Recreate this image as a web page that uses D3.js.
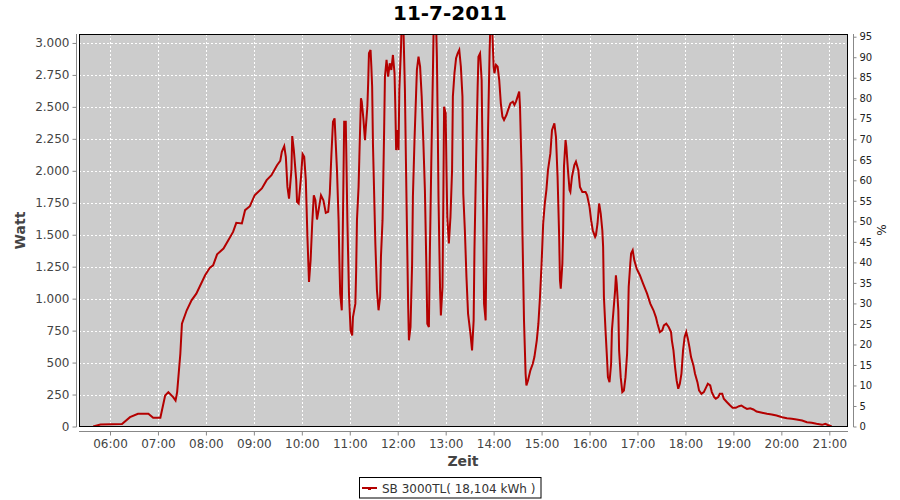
<!DOCTYPE html>
<html><head><meta charset="utf-8">
<script src="https://cdn.jsdelivr.net/npm/d3@7"></script>
<style>
html,body{margin:0;padding:0;background:#fff;}
svg{display:block;font-family:"DejaVu Sans",sans-serif;}
</style></head>
<body><svg id="chart" width="900" height="500"></svg>
<script>
const titleText = "11-7-2011";
const seriesName = "SB 3000TL( 18,104 kWh )";
const xTickLabels = ["06:00","07:00","08:00","09:00","10:00","11:00","12:00","13:00","14:00","15:00","16:00","17:00","18:00","19:00","20:00","21:00"];
const yTicks = [0,250,500,750,1000,1250,1500,1750,2000,2250,2500,2750,3000];
const pctTicks = [0,5,10,15,20,25,30,35,40,45,50,55,60,65,70,75,80,85,90,95];
const times = ["5:39","5:48","6:15","6:25","6:35","6:48","6:54","7:03","7:09","7:13","7:19","7:22","7:24","7:28","7:30","7:36","7:42","7:48","7:59","8:05","8:09","8:14","8:22","8:28","8:34","8:38","8:45","8:49","8:55","9:01","9:10","9:16","9:22","9:29","9:33","9:35","9:38","9:40","9:42","9:44","9:47","9:48","9:50","9:53","9:54","9:56","9:59","10:01","10:03","10:05","10:07","10:09","10:11","10:13","10:15","10:17","10:19","10:21","10:24","10:27","10:30","10:33","10:35","10:37","10:39","10:41","10:44","10:46","10:47","10:48","10:50","10:53","10:55","10:56","10:57","10:59","11:01","11:03","11:04","11:07","11:08","11:09","11:11","11:12","11:14","11:15","11:17","11:19","11:20","11:22","11:23","11:24","11:26","11:27","11:28","11:29","11:31","11:32","11:34","11:36","11:38","11:39","11:41","11:42","11:43","11:44","11:46","11:48","11:50","11:52","11:54","11:56","11:57","11:58","12:00","12:01","12:02","12:04","12:05","12:07","12:08","12:09","12:10","12:11","12:13","12:14","12:16","12:18","12:19","12:21","12:23","12:24","12:26","12:28","12:30","12:32","12:34","12:36","12:37","12:39","12:40","12:42","12:44","12:45","12:48","12:49","12:50","12:51","12:53","12:54","12:56","12:57","12:58","13:00","13:01","13:02","13:04","13:06","13:08","13:09","13:11","13:13","13:15","13:17","13:19","13:21","13:22","13:24","13:26","13:28","13:31","13:33","13:35","13:36","13:38","13:40","13:41","13:43","13:45","13:46","13:47","13:48","13:50","13:51","13:53","13:55","13:56","13:58","14:00","14:01","14:03","14:05","14:07","14:09","14:11","14:13","14:16","14:18","14:21","14:24","14:26","14:28","14:30","14:32","14:33","14:35","14:36","14:38","14:40","14:41","14:43","14:46","14:49","14:51","14:54","14:56","14:58","15:00","15:02","15:04","15:06","15:08","15:11","15:13","15:16","15:18","15:20","15:22","15:23","15:24","15:26","15:27","15:28","15:30","15:31","15:33","15:35","15:36","15:38","15:41","15:43","15:46","15:48","15:51","15:55","15:57","16:00","16:02","16:04","16:07","16:08","16:10","16:12","16:14","16:16","16:17","16:18","16:20","16:22","16:23","16:25","16:27","16:28","16:30","16:32","16:33","16:34","16:36","16:37","16:39","16:41","16:43","16:45","16:47","16:48","16:49","16:51","16:52","16:54","16:56","16:59","17:03","17:07","17:12","17:16","17:20","17:23","17:25","17:28","17:31","17:33","17:36","17:39","17:42","17:43","17:45","17:47","17:49","17:51","17:53","17:55","17:57","17:59","18:01","18:03","18:05","18:07","18:10","18:12","18:15","18:17","18:20","18:23","18:26","18:28","18:31","18:33","18:36","18:38","18:41","18:43","18:46","18:48","18:52","18:56","18:59","19:03","19:07","19:10","19:13","19:17","19:21","19:25","19:29","19:36","19:42","19:48","19:54","20:01","20:07","20:13","20:19","20:26","20:32","20:38","20:44","20:51","20:55","20:59","21:03"];
const watts = [0,16,20,73,99,99,68,68,243,269,230,204,269,569,804,909,987,1039,1183,1243,1261,1347,1392,1457,1522,1593,1588,1692,1723,1809,1862,1927,1966,2044,2078,2149,2193,2110,1874,1783,2005,2272,2162,1927,1757,1744,1953,2131,2110,1927,1483,1130,1300,1588,1809,1770,1619,1692,1809,1770,1671,1679,1822,2123,2384,2410,2005,1614,1300,1041,909,2384,2384,2005,1614,1039,752,713,856,961,1222,1614,1874,2110,2567,2541,2410,2240,2332,2501,2684,2919,2945,2815,2658,2214,1692,1431,1065,909,1013,1326,1614,1953,2318,2736,2867,2736,2841,2789,2906,2763,2501,2162,2318,2162,2632,2945,3150,3150,2893,2632,2188,1770,961,674,778,1274,1796,2240,2606,2789,2893,2815,2580,2240,1849,1196,804,778,1274,2058,2763,3150,3150,2893,2397,1796,1065,869,1091,1718,2501,2449,2005,1640,1431,1640,2005,2580,2763,2880,2919,2945,2815,2580,1822,1535,1170,883,726,595,830,1379,2058,2658,2893,2919,2710,2188,1640,961,830,1405,2318,2945,3150,3150,2815,2763,2828,2815,2710,2528,2423,2397,2436,2475,2528,2541,2515,2541,2580,2619,2501,2005,1535,830,413,321,360,439,491,543,674,804,1013,1274,1588,1744,1849,2005,2136,2318,2371,2266,1953,1483,1144,1078,1274,1535,2031,2240,2188,2005,1849,1835,1953,2044,2071,2005,1874,1835,1835,1809,1718,1614,1535,1483,1496,1588,1744,1666,1535,1405,1013,752,517,386,347,491,752,909,1065,1183,1118,909,595,386,269,282,386,569,804,1091,1274,1353,1379,1300,1235,1183,1118,1039,961,909,856,804,739,752,791,804,778,739,674,595,465,360,295,334,413,595,700,739,687,621,543,478,413,347,282,256,269,308,334,321,269,230,217,230,256,256,217,190,164,146,146,159,164,151,138,143,133,117,107,99,94,86,73,65,60,55,47,34,29,21,13,21,10,0];

const svg = d3.select("#chart");
const L = 79, R = 848, T = 34, B = 427;
const toMin = s => { const [h,m] = s.split(":").map(Number); return h*60+m; };
const data = times.map((t,i) => ({m: toMin(t), v: watts[i]}));

const x = d3.scaleLinear().domain([321.2, 1283.4]).range([L, R]);
const y = d3.scaleLinear().domain([0, 3070]).range([426.5, T]);
const y2 = d3.scaleLinear().domain([0, 95.66]).range([426.5, T]);
const loc = d3.formatLocale({decimal:",", thousands:".", grouping:[3], currency:["","€"]});
const fmt = loc.format(",d");

// plot background
svg.append("rect").attr("x", L).attr("y", T).attr("width", R-L).attr("height", B-T).attr("fill", "#cccccc");

// grid
const grid = svg.append("g");
grid.selectAll(".gy").data(yTicks).enter().append("line")
  .attr("x1", L).attr("x2", R).attr("y1", d => Math.round(y(d))+0.5).attr("y2", d => Math.round(y(d))+0.5)
  .attr("stroke", "#fff").attr("stroke-width", 1).attr("stroke-dasharray", "2,2");
grid.selectAll(".gx").data(xTickLabels).enter().append("line")
  .attr("y1", T).attr("y2", B).attr("x1", d => Math.round(x(toMin(d)))+0.5).attr("x2", d => Math.round(x(toMin(d)))+0.5)
  .attr("stroke", "#fff").attr("stroke-width", 1).attr("stroke-dasharray", "2,2");

// line
svg.append("clipPath").attr("id", "clip").append("rect").attr("x", L).attr("y", T).attr("width", R-L).attr("height", B-T);
svg.append("path").datum(data).attr("clip-path", "url(#clip)")
  .attr("fill", "none").attr("stroke", "#b40000").attr("stroke-width", 2).attr("stroke-linejoin", "miter")
  .attr("d", d3.line().x(d => x(d.m)).y(d => y(d.v)));

// plot border
svg.append("rect").attr("x", L+0.5).attr("y", T+0.5).attr("width", R-L-1).attr("height", B-T-1)
  .attr("fill", "none").attr("stroke", "#000").attr("stroke-width", 1);

// left axis
const ya = svg.append("g").attr("transform", "translate(76.5,0)")
  .call(d3.axisLeft(y).tickValues(yTicks).tickFormat(fmt).tickSize(4).tickPadding(3));
ya.select(".domain").attr("stroke", "#888").attr("d", `M0,${T}V${B}`);
ya.selectAll(".tick line").attr("stroke", "#888");
ya.selectAll("text").attr("fill", "#444").style("font-size", "12px").style("font-family", "DejaVu Sans");

// right axis
const ra = svg.append("g").attr("transform", "translate(853.5,0)")
  .call(d3.axisRight(y2).tickValues(pctTicks).tickSize(3).tickPadding(3));
ra.select(".domain").attr("stroke", "#888").attr("d", `M0,${T}V${B}`);
ra.selectAll(".tick line").attr("stroke", "#888");
ra.selectAll("text").attr("fill", "#222").style("font-size", "10px").style("font-family", "DejaVu Sans");

// bottom axis
const xa = svg.append("g").attr("transform", "translate(0,431.5)")
  .call(d3.axisBottom(x).tickValues(xTickLabels.map(toMin)).tickFormat((d,i) => xTickLabels[i]).tickSize(4).tickPadding(4));
xa.select(".domain").attr("stroke", "#888").attr("d", `M${L},0H${R}`);
xa.selectAll(".tick line").attr("stroke", "#888");
xa.selectAll("text").attr("fill", "#444").style("font-size", "12px").style("font-family", "DejaVu Sans");

// title and labels
svg.append("text").attr("x", 450).attr("y", 20).attr("text-anchor", "middle")
  .style("font-size", "20px").style("font-weight", "bold").attr("fill", "#000").text(titleText);
svg.append("text").attr("transform", "translate(25,230.5) rotate(-90)").attr("text-anchor", "middle")
  .style("font-size", "14px").style("font-weight", "bold").attr("fill", "#444").text("Watt");
svg.append("text").attr("x", 463).attr("y", 466).attr("text-anchor", "middle")
  .style("font-size", "14px").style("font-weight", "bold").attr("fill", "#444").text("Zeit");
svg.append("text").attr("transform", "translate(886,230) rotate(-90)").attr("text-anchor", "middle")
  .style("font-size", "12px").attr("fill", "#222").text("%");

// legend
const lg = svg.append("g");
lg.append("rect").attr("x", 359.5).attr("y", 477.5).attr("width", 181.5).attr("height", 20.5)
  .attr("fill", "#fff").attr("stroke", "#000").attr("stroke-width", 1);
lg.append("line").attr("x1", 362).attr("x2", 377).attr("y1", 488).attr("y2", 488)
  .attr("stroke", "#b40000").attr("stroke-width", 2);
lg.append("rect").attr("x", 368).attr("y", 487).attr("width", 3).attr("height", 3).attr("fill", "#b40000");
lg.append("text").attr("x", 382).attr("y", 492.5).style("font-size", "12px").attr("fill", "#333").text(seriesName);
</script></body></html>
